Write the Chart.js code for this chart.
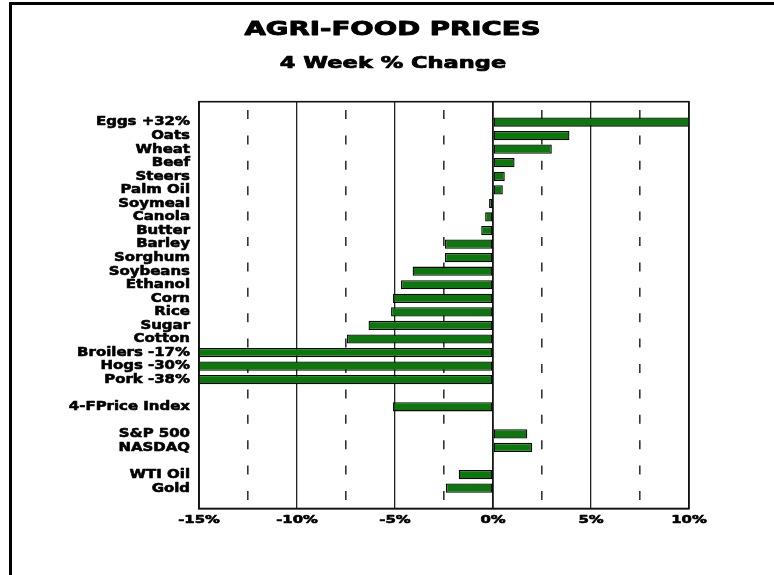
<!DOCTYPE html>
<html>
<head>
<meta charset="utf-8">
<script src="https://cdn.jsdelivr.net/npm/chart.js@4.4.1/dist/chart.umd.min.js"></script>
<style>
html,body{margin:0;padding:0;background:#fff;}
#wrap{width:774px;height:575px;position:relative;}
</style>
</head>
<body>
<div id="wrap"><canvas id="c" width="774" height="575"></canvas></div>
<script>
// ---- data ----
const titleText = "AGRI-FOOD PRICES";
const subtitleText = "4 Week % Change";
const categories = ["", "Eggs +32%", "Oats", "Wheat", "Beef", "Steers", "Palm Oil", "Soymeal", "Canola", "Butter",
  "Barley", "Sorghum", "Soybeans", "Ethanol", "Corn", "Rice", "Sugar", "Cotton",
  "Broilers -17%", "Hogs -30%", "Pork -38%", "", "4-FPrice Index", "", "S&P 500", "NASDAQ", "", "WTI Oil", "Gold", ""];
const changes = [null, 32, 3.9, 3.0, 1.1, 0.6, 0.5, -0.2, -0.4, -0.6,
  -2.45, -2.45, -4.1, -4.7, -5.1, -5.2, -6.35, -7.45,
  -17, -30, -38, null, -5.1, null, 1.75, 2.0, null, -1.75, -2.4, null];
const xTickValues = [-15, -10, -5, 0, 5, 10];
const xTickLabels = ["-15%", "-10%", "-5%", "0%", "5%", "10%"];

function stretchText(ctx, text, x, y, font, sx, align, weight) {
  ctx.save();
  ctx.font = font;
  ctx.fillStyle = '#000';
  ctx.strokeStyle = '#000';
  ctx.lineJoin = 'round';
  ctx.lineWidth = weight;
  ctx.textBaseline = 'middle';
  ctx.textAlign = align;
  ctx.translate(x, y);
  ctx.scale(sx, 1);
  ctx.fillText(text, 0, 0);
  if (weight > 0) ctx.strokeText(text, 0, 0);
  ctx.restore();
}

const framePlugin = {
  id: 'framePlugin',
  beforeDraw(chart) {
    const ctx = chart.ctx;
    ctx.save();
    ctx.fillStyle = '#fff';
    ctx.fillRect(0, 0, chart.width, chart.height);
    ctx.fillStyle = '#000';
    ctx.fillRect(9, 2, chart.width - 9, 3);
    ctx.fillRect(9, 2, 3, chart.height - 2);
    ctx.restore();
  },
  afterDatasetsDraw(chart) {
    const a = chart.chartArea, ctx = chart.ctx;
    ctx.save();
    ctx.strokeStyle = '#111';
    ctx.lineWidth = 1.6;
    ctx.strokeRect(a.left, a.top, a.right - a.left, a.bottom - a.top);
    const x0 = chart.scales.x.getPixelForValue(0);
    ctx.beginPath();
    ctx.lineWidth = 1.4;
    ctx.moveTo(x0, a.top);
    ctx.lineTo(x0, a.bottom);
    ctx.stroke();
    ctx.restore();
  },
  afterDraw(chart) {
    const ctx = chart.ctx;
    stretchText(ctx, titleText, 392.5, 30, 'bold 20px "DejaVu Sans"', 1.38, 'center', 0.9);
    stretchText(ctx, subtitleText, 393, 64, 'bold 15px "DejaVu Sans"', 1.5, 'center', 0.7);
    const ys = chart.scales.y, xs = chart.scales.x;
    categories.forEach((lab, i) => {
      if (!lab) return;
      stretchText(ctx, lab, 190, ys.getPixelForValue(i), 'bold 13px "DejaVu Sans"', 1.15, 'right', 0.6);
    });
    xTickValues.forEach((v, i) => {
      stretchText(ctx, xTickLabels[i], xs.getPixelForValue(v), 520, 'bold 11px "DejaVu Sans"', 1.35, 'center', 0.6);
    });
  }
};

new Chart(document.getElementById('c'), {
  type: 'bar',
  data: {
    labels: categories,
    datasets: [{
      data: changes,
      backgroundColor: '#0a780a',
      borderColor: '#000',
      borderWidth: 1.3,
      borderSkipped: false,
      barPercentage: 0.68,
      categoryPercentage: 1,
      clip: 0
    }]
  },
  options: {
    indexAxis: 'y',
    responsive: false,
    animation: false,
    devicePixelRatio: 1,
    layout: { padding: { left: 199, right: 85, top: 101.7, bottom: 66.5 } },
    plugins: { legend: { display: false }, tooltip: { enabled: false }, title: { display: false } },
    scales: {
      x: {
        type: 'linear',
        min: -15, max: 10,
        ticks: { display: false, stepSize: 2.5 },
        grid: {
          drawTicks: false,
          color: ctx => (ctx.tick && Math.abs(ctx.tick.value % 5) > 0.01) ? '#333' : '#222',
          lineWidth: ctx => (ctx.tick && Math.abs(ctx.tick.value % 5) > 0.01) ? 1.6 : 1.3
        },
        border: {
          display: true, color: '#111', width: 1.6,
          dash: ctx => (ctx.tick && Math.abs(ctx.tick.value % 5) > 0.01) ? [9, 16.4] : [],
          dashOffset: 17.1
        },
        afterFit(s) { s.height = 0; }
      },
      y: {
        ticks: { display: false },
        grid: { display: false, drawTicks: false },
        border: { display: true, color: '#111', width: 1.6 },
        afterFit(s) { s.width = 0; }
      }
    }
  },
  plugins: [framePlugin]
});
</script>
</body>
</html>
